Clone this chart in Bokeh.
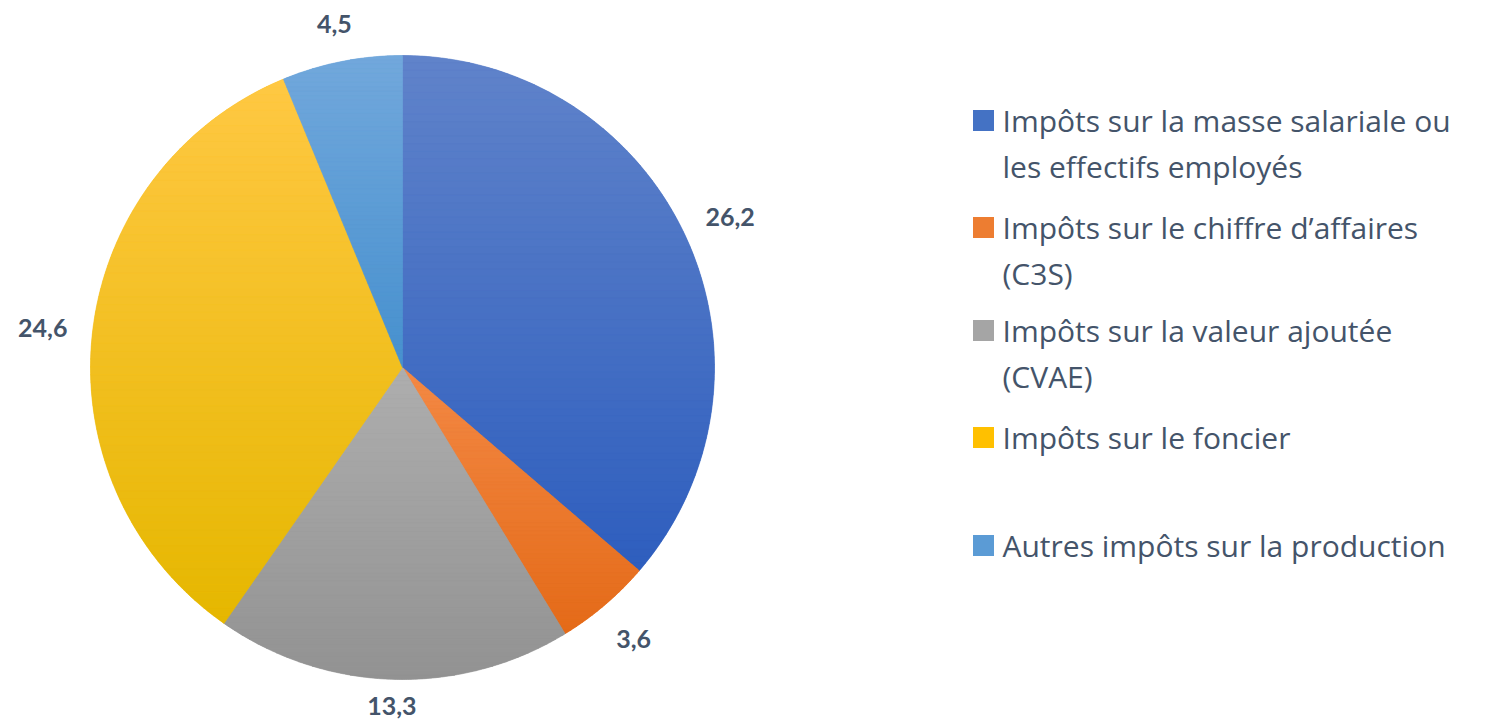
import math
from bokeh.plotting import figure
from bokeh.models import Range1d, ColumnDataSource
from bokeh.core.properties import value
from bokeh.embed import file_html
from bokeh.resources import INLINE

# ---- data ----
categories = [
    "Impôts sur la masse salariale ou\nles effectifs employés",
    "Impôts sur le chiffre d’affaires\n(C3S)",
    "Impôts sur la valeur ajoutée\n(CVAE)",
    "Impôts sur le foncier",
    "Autres impôts sur la production",
]
values = [26.2, 3.6, 13.3, 24.6, 4.5]
value_labels = ["26,2", "3,6", "13,3", "24,6", "4,5"]
colors = ["#4472C4", "#ED7D31", "#A5A5A5", "#FFC000", "#5B9BD5"]
colors_top = ["#6083CA", "#F38945", "#AEAEAE", "#FFC843", "#72A8DC"]
colors_bottom = ["#2E5EBE", "#E46A18", "#929292", "#E5B700", "#4690CE"]

W, H = 1486, 724
text_color = "#44546A"

p = figure(width=W, height=H, output_backend="svg", toolbar_location=None,
           x_range=Range1d(0, W), y_range=Range1d(0, H), min_border=0)
p.axis.visible = False
p.grid.visible = False
p.outline_line_color = None
p.background_fill_color = "white"
p.border_fill_color = "white"

cx, cy, r = 402, 357, 312
total = sum(values)
starts, ends, mids = [], [], []
cum = 0.0
for v in values:
    a0 = math.pi / 2 - 2 * math.pi * cum / total
    cum += v
    a1 = math.pi / 2 - 2 * math.pi * cum / total
    starts.append(a0)
    ends.append(a1)
    mids.append((a0 + a1) / 2)

# base wedges
src = ColumnDataSource(dict(start=starts, end=ends, color=colors))
p.wedge(x=cx, y=cy, radius=r, start_angle="start", end_angle="end",
        direction="clock", fill_color="color", line_color=None, source=src)


# vertical gradient overlay: each slice split into horizontal bands
def hexrgb(h):
    h = h.lstrip("#")
    return tuple(int(h[i:i + 2], 16) for i in (0, 2, 4))


def mix(c1, c2, t):
    a, b = hexrgb(c1), hexrgb(c2)
    return "#%02x%02x%02x" % tuple(int(round(a[k] + (b[k] - a[k]) * t)) for k in range(3))


def clip(poly, yv, keep_above):
    out = []
    n = len(poly)
    for i in range(n):
        P, Q = poly[i], poly[(i + 1) % n]
        pin = (P[1] >= yv) if keep_above else (P[1] <= yv)
        qin = (Q[1] >= yv) if keep_above else (Q[1] <= yv)
        if pin:
            out.append(P)
        if pin != qin:
            t = (yv - P[1]) / (Q[1] - P[1])
            out.append((P[0] + t * (Q[0] - P[0]), yv))
    return out


bx, by, bc = [], [], []
nb = 70
for i in range(len(values)):
    a0, a1 = starts[i], ends[i]
    npts = 200
    poly = [(cx, cy)] + [(cx + r * math.cos(a0 + (a1 - a0) * k / npts),
                          cy + r * math.sin(a0 + (a1 - a0) * k / npts)) for k in range(npts + 1)]
    ymin = min(pt[1] for pt in poly)
    ymax = max(pt[1] for pt in poly)
    for b in range(nb):
        y_hi = ymax - (ymax - ymin) * b / nb
        y_lo = ymax - (ymax - ymin) * (b + 1) / nb
        q = clip(clip(poly, y_lo, True), y_hi, False)
        if len(q) < 3:
            continue
        bx.append([pt[0] for pt in q])
        by.append([pt[1] for pt in q])
        bc.append(mix(colors_top[i], colors_bottom[i], (b + 0.5) / nb))
p.patches(xs=bx, ys=by, fill_color=bc, line_color=bc, line_width=0.6)

# value labels outside slices
lx, ly = [], []
for m in mids:
    d = r + 35 + 15 * abs(math.cos(m))
    lx.append(cx + d * math.cos(m))
    ly.append(max(cy + d * math.sin(m), 19))
p.text(x=lx, y=ly, text=value_labels, text_font=value("Lato"),
       text_font_style="bold", text_font_size="25px", text_color=text_color,
       text_align="center", text_baseline="middle")

# legend
leg_sq_x = 983
leg_txt_x = 1002
first_line_y = [604, 497, 394, 287, 179]
line_gap = 46
sq_x, sq_y = [], []
tx, ty, tt = [], [], []
for i, cat in enumerate(categories):
    sq_x.append(leg_sq_x)
    sq_y.append(first_line_y[i])
    for j, line in enumerate(cat.split("\n")):
        tx.append(leg_txt_x)
        ty.append(first_line_y[i] - j * line_gap)
        tt.append(line)
p.rect(x=sq_x, y=sq_y, width=21, height=21, fill_color=colors, line_color=None)
p.text(x=tx, y=ty, text=tt, text_font=value("Open Sans"), text_font_size="30px",
       text_color=text_color, text_align="left", text_baseline="middle")

open("out.html", "w").write(file_html(p, INLINE))
